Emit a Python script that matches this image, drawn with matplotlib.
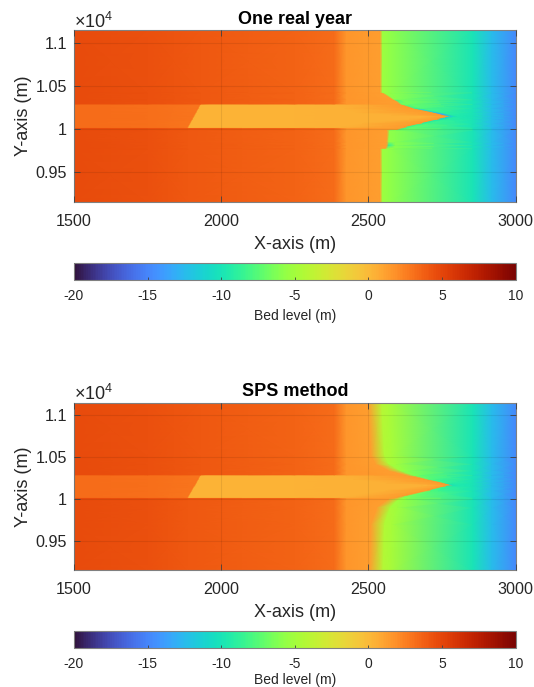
import numpy as np
import matplotlib
matplotlib.use("Agg")
import matplotlib.pyplot as plt

plt.rcParams['font.family'] = ['Liberation Sans', 'DejaVu Sans']
plt.rcParams['axes.unicode_minus'] = False
plt.rcParams['mathtext.fontset'] = 'custom'
plt.rcParams['mathtext.rm'] = 'Liberation Sans'
plt.rcParams['mathtext.default'] = 'regular'

# Fixed x knots of the bed-level table (m)
knots_a = [1500, 1750]
knots_b = [2250, 2385]
knots_c = [2855, 2920, 3000]

OPEN = [4.7, 4.4, 4.1, 4.1, 3.6, 3.3, 1.6, 1.3]
FAR = [-10.0, -12.5, -14.8]
CH = [3.3, 3.1, 2.9, 0.3, 0.3, 0.4, 0.4, 1.4]

top_y = [9150, 9770, 9775, 9810, 9850, 9985, 9995, 10010,
         10016, 10060, 10110, 10130, 10150, 10165, 10190, 10240, 10285,
         10290, 10330, 10345, 10420, 10425, 11150]
top_break = [1886, 1886, 1886, 1886, 1886, 1886, 1886, 1886,
             1886, 1893, 1901, 1904, 1907, 1910, 1914, 1922, 1929,
             1929, 1929, 1929, 1929, 1929, 1929]
top_taper = [2425, 2425, 2425, 2425, 2425, 2425, 2425, 2425,
             2410, 2480, 2640, 2680, 2690, 2580, 2460, 2420, 2390,
             2425, 2425, 2425, 2425, 2425, 2425]
top_front = [2540, 2540, 2558, 2562, 2562, 2564, 2600, 2612,
             2622, 2675, 2735, 2755, 2770, 2748, 2720, 2650, 2610,
             2605, 2590, 2580, 2546, 2540, 2540]
top_delta = [8] * 23
top_after = [-5.3, -5.3, -5.4, -9.0, -5.6, -5.8, -7.5, -8.5,
             -8.0, -8.5, -10.0, -12.0, -11.0, -14.0, -12.5, -8.5, -7.0,
             -6.5, -8.5, -6.0, -5.4, -5.3, -5.3]
top_after2 = [-5.6, -5.6, -5.9, -6.0, -6.0, -6.0, -6.6, -6.8,
              -7.0, -7.9, -8.9, -9.3, -9.5, -9.2, -8.7, -7.5, -6.8,
              -6.7, -6.5, -6.3, -5.7, -5.6, -5.6]
top_gap = [22] * 23

bot_y = [9150, 9700, 9900, 10000, 10014,
         10020, 10100, 10150, 10170, 10195, 10240, 10285,
         10290, 10340, 10420, 10520, 11150]
bot_break = [1886, 1886, 1886, 1886, 1886,
             1886, 1899, 1907, 1911, 1915, 1922, 1929,
             1929, 1929, 1929, 1929, 1929]
bot_taper = [2425, 2425, 2425, 2425, 2425,
             2420, 2560, 2680, 2700, 2560, 2450, 2395,
             2425, 2425, 2425, 2425, 2425]
bot_front = [2505, 2510, 2530, 2570, 2590,
             2600, 2700, 2755, 2775, 2750, 2690, 2630,
             2625, 2570, 2525, 2510, 2500]
bot_delta = [45, 45, 45, 35, 25,
             20, 12, 10, 10, 10, 14, 25,
             25, 40, 45, 45, 45]
bot_after = [-4.2, -4.3, -4.7, -5.3, -5.5,
             -5.6, -7.5, -8.6, -10.5, -8.5, -7.4, -6.4,
             -6.3, -5.4, -4.6, -4.3, -4.1]
bot_after2 = [-4.7, -4.8, -5.2, -5.9, -6.1,
              -6.2, -8.1, -9.2, -9.6, -9.1, -7.9, -6.9,
              -6.8, -6.0, -5.1, -4.8, -4.6]
bot_gap = [25] * 17

panel_titles = ['One real year', 'SPS method']
x_ticks = [1500, 2000, 2500, 3000]
y_ticks = [9500, 10000, 10500, 11000]
y_ticklabels = ['0.95', '1', '1.05', '1.1']
cbar_ticks = [-20, -15, -10, -5, 0, 5, 10]
in_channel_top = (10016, 10285)
in_channel_bot = (10020, 10285)

W, H = 534, 687
TXT = '#262626'


def box(l, t, r, b):
    return [l / W, 1 - b / H, (r - l) / W, (b - t) / H]


def panel(ax_top, ax_bottom, cb_box, cb_pad, title, ys, brk, tap, front, delta,
          after, gap, after2, chan):
    ax = fig.add_axes(box(74, ax_top, 515.5, ax_bottom))
    X, Y, Z = [], [], []
    for i, y in enumerate(ys):
        X.append(knots_a + [brk[i], brk[i] + 4] + knots_b +
                 [tap[i], front[i], front[i] + delta[i],
                  front[i] + delta[i] + gap[i]] + knots_c)
        Y.append([y] * 13)
        head = CH if chan[0] <= y <= chan[1] else OPEN
        Z.append(head + [after[i], after2[i]] + FAR)
    mesh = ax.pcolormesh(np.array(X, float), np.array(Y, float), np.array(Z),
                         shading='gouraud', cmap='turbo', vmin=-20, vmax=10,
                         rasterized=True)
    ax.set_xlim(1500, 3000)
    ax.set_ylim(9155, 11147)
    ax.set_xticks(x_ticks)
    ax.set_yticks(y_ticks, y_ticklabels)
    ax.tick_params(direction='in', length=4, width=0.6, top=True, right=True,
                   labelsize=11.6, colors=TXT, color='#404040')
    ax.tick_params(axis='x', pad=9)
    ax.tick_params(axis='y', pad=5)
    ax.grid(True, color='black', alpha=0.08, lw=0.8)
    ax.set_axisbelow(False)
    for s in ax.spines.values():
        s.set_color('#808080')
        s.set_linewidth(0.8)
    ax.set_title(title, fontsize=13, fontweight='bold', color='black', pad=4.5)
    ax.set_xlabel('X-axis (m)', fontsize=13, color=TXT, labelpad=5)
    ax.set_ylabel('Y-axis (m)', fontsize=13, color=TXT, labelpad=2.5)
    ax.text(0.0, 0.99, r'$\times10^{4}$', transform=ax.transAxes, fontsize=13,
            color=TXT, ha='left', va='bottom')

    cax = fig.add_axes(box(*cb_box))
    cb = fig.colorbar(mesh, cax=cax, orientation='horizontal')
    cb.set_ticks(cbar_ticks)
    cb.ax.tick_params(direction='in', length=2.5, width=0.6, labelsize=10,
                      colors=TXT, color='#404040', pad=7)
    cb.outline.set_edgecolor('#808080')
    cb.outline.set_linewidth(0.8)
    cb.set_label('Bed level (m)', fontsize=10, color=TXT, labelpad=cb_pad)


fig = plt.figure(figsize=(W / 100, H / 100), dpi=100)
panel(30, 201.5, (74, 263, 515.5, 279.5), 4, panel_titles[0], top_y, top_break,
      top_taper, top_front, top_delta, top_after, top_gap, top_after2, in_channel_top)
panel(402.7, 570, (74, 631, 515.5, 647.5), 1, panel_titles[1], bot_y, bot_break,
      bot_taper, bot_front, bot_delta, bot_after, bot_gap, bot_after2, in_channel_bot)
fig.savefig('out.png', dpi=100)
